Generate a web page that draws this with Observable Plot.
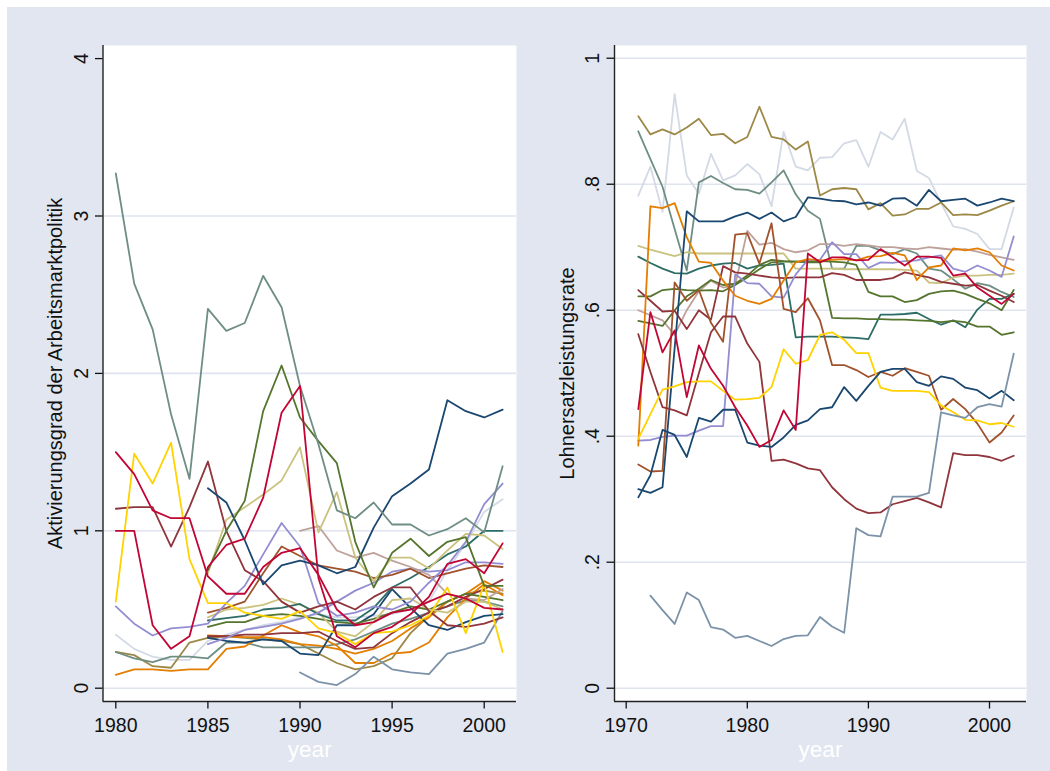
<!DOCTYPE html>
<html><head><meta charset="utf-8">
<script src="https://cdn.jsdelivr.net/npm/d3@7"></script>
<script src="https://cdn.jsdelivr.net/npm/@observablehq/plot@0.6"></script>
<style>
html,body{margin:0;padding:0;background:#fff;width:1050px;height:771px;overflow:hidden;}
#bg{position:absolute;left:7px;top:7px;width:1043px;height:764px;background:#e1e6f0;}
#p1,#p2{position:absolute;top:0;}
#p1{left:0px;} #p2{left:525px;}
</style></head>
<body>
<div id="bg"></div>
<div id="p1"></div>
<div id="p2"></div>
<script>
// ---------- Left panel: Aktivierungsgrad der Arbeitsmarktpolitik ----------
const leftXTicks = [1980, 1985, 1990, 1995, 2000];
const leftYTicks = [0, 1, 2, 3, 4];
const leftYTickLabels = ["0", "1", "2", "3", "4"];
const leftGrid = [0, 1, 2, 3];

const aTeal     = [3.27,2.57,2.28,1.74,1.33,2.41,2.27,2.32,2.62,2.42,1.92,1.55,1.13,1.08,1.18,1.04,1.04,0.97,1.01,1.08,0.99,1.41]; // 1980
const aRedA     = [1.50,1.36,1.13,1.08,1.08,0.71,0.60,0.60,0.77,0.86,0.89,0.72,0.50,0.40,0.42,0.48,0.50,0.55,0.60,0.57,0.51,0.50]; // 1980
const aRedB     = [1.00,1.00,0.40,0.25,0.33,0.77,0.91,0.95,1.21,1.75,1.92,0.70,0.33,0.26,0.35,0.39,0.47,0.58,0.79,0.82,0.73,0.92]; // 1980
const aMaroonA  = [1.14,1.15,1.15,0.90,1.15,1.44,1.00,0.75,0.68,0.55,0.48,0.52,0.55,0.50,0.58,0.64,0.64,0.49,0.40,0.39,0.41,0.45]; // 1980
const aGold     = [0.55,1.49,1.30,1.56,0.82,0.54,0.54,0.48,0.46,0.44,0.49,0.38,0.35,0.28,0.35,0.36,0.40,0.46,0.64,0.35,0.66,0.23]; // 1980
const aNavyA    = [1.27,1.18,0.94,0.66,0.78,0.81,0.78,0.73,0.77,1.02,1.22,1.30,1.39,1.83,1.76,1.72,1.77]; // 1985
const aNavyB    = [0.32,0.30,0.29,0.31,0.30,0.22,0.21,0.40,0.40,0.47,0.63,0.51,0.40,0.37,0.42,0.46,0.47]; // 1985
const aGreenA   = [0.75,1.00,1.19,1.76,2.05,1.72,1.57,1.43,0.93,0.64,0.86,0.95,0.84,0.93,0.96,0.65,0.65]; // 1985
const aKhakiA   = [0.73,1.07,1.15,1.23,1.32,1.53,0.99,1.245,0.83,0.68,0.83,0.83,0.76,0.875,0.98,0.97,0.885]; // 1985
const aErose    = [1.00,1.03,0.875,0.83,0.86,0.81,0.77,0.72,0.60,0.57,0.56,0.63]; // 1990
const aLavA     = [0.52,0.41,0.335,0.38,0.39,0.41,0.54,0.65,0.85,1.05,0.90,0.54,0.46,0.48,0.52,0.50,0.55,0.67,0.78,0.93,1.17,1.30]; // 1980
const aLavB     = [0.28,0.32,0.37,0.39,0.41,0.44,0.48,0.55,0.62,0.67,0.74,0.76,0.74,0.75,0.80,0.80,0.79]; // 1985
const aLight    = [0.34,0.25,0.20,0.18,0.18,0.30,0.34,0.37,0.40,0.42,0.45,0.47,0.45,0.45,0.46,0.47,0.50,0.55,0.75,0.92,1.12,1.20]; // 1980
const aOrangeA  = [0.085,0.12,0.12,0.11,0.12,0.12,0.25,0.265,0.335,0.40,0.355,0.33,0.27,0.16,0.16,0.22,0.23,0.29,0.45,0.57,0.66,0.59]; // 1980
const aOrangeB  = [0.335,0.33,0.325,0.325,0.31,0.28,0.27,0.25,0.22,0.25,0.30,0.38,0.45,0.55,0.60,0.68,0.62]; // 1985
const aBrown    = [0.23,0.21,0.14,0.13,0.29,0.32,0.33,0.32,0.31,0.30,0.28,0.22,0.16,0.12,0.14,0.19,0.35,0.46,0.55,0.60,0.62,0.60]; // 1980
const aSienna   = [0.48,0.51,0.55,0.73,0.90,0.84,0.78,0.76,0.74,0.70,0.72,0.76,0.70,0.73,0.76,0.78,0.77]; // 1985
const aEmerald  = [0.43,0.445,0.46,0.50,0.51,0.535,0.47,0.43,0.43,0.51,0.64,0.70,0.77,0.85,0.90,1.00,1.00]; // 1985
const aGreenB   = [0.39,0.42,0.42,0.46,0.47,0.46,0.44,0.42,0.41,0.44,0.48,0.52,0.50,0.55,0.60,0.58,0.56]; // 1985
const aTealB    = [0.23,0.19,0.165,0.20,0.20,0.19,0.29,0.29,0.26,0.26,0.26,0.26,0.28,0.31,0.36,0.41,0.44,0.48,0.52,0.56,0.55,0.52]; // 1980
const aEmidblue = [0.10,0.04,0.02,0.09,0.20,0.12,0.10,0.09,0.22,0.25,0.29,0.49]; // 1990
const aKhakiB   = [0.45,0.50,0.51,0.53,0.57,0.53,0.48,0.36,0.33,0.42,0.56,0.57,0.50,0.48,0.55,0.55,0.50]; // 1985
const aMaroonB  = [0.33,0.33,0.34,0.34,0.35,0.35,0.36,0.30,0.25,0.26,0.35,0.42,0.48,0.52,0.58,0.63,0.69]; // 1985

// ---------- Right panel: Lohnersatzleistungsrate ----------
const rightXTicks = [1970, 1980, 1990, 2000];
const rightYTicks = [0, 0.2, 0.4, 0.6, 0.8, 1];
const rightYTickLabels = ["0", ".2", ".4", ".6", ".8", "1"];
const rightGrid = [0, 0.2, 0.4, 0.6, 0.8, 1];

const rBrown   = [0.908,0.879,0.887,0.879,0.89,0.904,0.878,0.88,0.865,0.875,0.923,0.875,0.871,0.855,0.868,0.782,0.792,0.794,0.792,0.760,0.770,0.750,0.752,0.761,0.761,0.771,0.751,0.752,0.751,0.758,0.766,0.773]; // 1971
const rLight   = [0.782,0.828,0.756,0.943,0.814,0.785,0.848,0.806,0.814,0.832,0.816,0.765,0.883,0.828,0.822,0.842,0.843,0.865,0.870,0.828,0.883,0.871,0.904,0.821,0.81,0.77,0.733,0.729,0.721,0.697,0.697,0.763];
const rTeal    = [0.884,0.84,0.796,0.729,0.663,0.803,0.813,0.802,0.792,0.791,0.785,0.803,0.822,0.784,0.758,0.745,0.666,0.666,0.702,0.702,0.695,0.689,0.697,0.690,0.666,0.663,0.649,0.634,0.643,0.639,0.629,0.621];
const rNavyA   = [0.316,0.31,0.319,0.54,0.757,0.741,0.741,0.741,0.749,0.755,0.745,0.755,0.741,0.748,0.779,0.777,0.774,0.773,0.768,0.771,0.766,0.777,0.778,0.766,0.791,0.773,0.775,0.777,0.766,0.771,0.777,0.773];
const rNavyB   = [0.303,0.338,0.41,0.402,0.367,0.429,0.423,0.442,0.442,0.39,0.385,0.383,0.398,0.418,0.425,0.443,0.446,0.478,0.456,0.480,0.502,0.507,0.507,0.486,0.480,0.495,0.491,0.477,0.473,0.460,0.472,0.457];
const rOrange  = [0.385,0.765,0.762,0.77,0.716,0.677,0.675,0.647,0.623,0.615,0.61,0.618,0.647,0.676,0.681,0.679,0.68,0.681,0.679,0.685,0.686,0.691,0.687,0.648,0.668,0.671,0.698,0.695,0.698,0.692,0.671,0.663];
const rKhaki   = [0.702,0.696,0.691,0.686,0.692,0.69,0.69,0.69,0.69,0.69,0.69,0.69,0.69,0.666,0.666,0.666,0.666,0.665,0.665,0.665,0.665,0.665,0.664,0.663,0.644,0.643,0.652,0.655,0.655,0.656,0.656,0.658];
const rEmerald = [0.685,0.675,0.666,0.659,0.658,0.666,0.671,0.674,0.675,0.666,0.671,0.672,0.674,0.557,0.558,0.558,0.558,0.557,0.556,0.554,0.593,0.593,0.594,0.596,0.586,0.577,0.584,0.573,0.601,0.618,0.618,0.626];
const rGreenA  = [0.622,0.622,0.632,0.634,0.632,0.631,0.632,0.63,0.64,0.652,0.665,0.676,0.677,0.677,0.678,0.678,0.677,0.676,0.672,0.629,0.622,0.622,0.613,0.616,0.626,0.63,0.631,0.626,0.618,0.611,0.60,0.632];
const rGreenB  = [0.583,0.579,0.575,0.6,0.622,0.634,0.648,0.64,0.642,0.655,0.672,0.68,0.678,0.677,0.676,0.676,0.588,0.587,0.587,0.586,0.586,0.585,0.585,0.584,0.583,0.581,0.583,0.581,0.574,0.574,0.561,0.565];
const rErose   = [0.6,0.592,0.584,0.561,0.60,0.63,0.647,0.636,0.64,0.726,0.704,0.707,0.697,0.692,0.695,0.705,0.705,0.702,0.705,0.703,0.70,0.70,0.698,0.697,0.70,0.698,0.696,0.697,0.693,0.688,0.684,0.68];
const rLav     = [0.393,0.394,0.399,0.401,0.401,0.409,0.416,0.416,0.657,0.643,0.642,0.622,0.62,0.657,0.68,0.68,0.708,0.689,0.689,0.667,0.676,0.675,0.678,0.679,0.684,0.687,0.666,0.661,0.671,0.663,0.653,0.717];
const rRed     = [0.443,0.597,0.533,0.568,0.462,0.544,0.507,0.48,0.446,0.417,0.383,0.394,0.441,0.41,0.69,0.676,0.684,0.684,0.679,0.68,0.697,0.684,0.671,0.685,0.685,0.683,0.655,0.658,0.636,0.623,0.61,0.626];
const rMaroonA = [0.632,0.615,0.598,0.599,0.57,0.60,0.585,0.67,0.66,0.658,0.655,0.652,0.651,0.652,0.652,0.652,0.659,0.656,0.648,0.648,0.648,0.651,0.66,0.656,0.652,0.645,0.642,0.639,0.64,0.631,0.623,0.613];
const rMaroonB = [0.562,0.502,0.446,0.441,0.433,0.50,0.565,0.59,0.59,0.547,0.518,0.361,0.363,0.357,0.349,0.346,0.319,0.30,0.285,0.278,0.279,0.292,0.297,0.302,0.295,0.287,0.373,0.37,0.37,0.367,0.361,0.369];
const rSienna  = [0.355,0.344,0.345,0.644,0.615,0.632,0.58,0.55,0.72,0.722,0.674,0.738,0.602,0.597,0.619,0.584,0.513,0.513,0.505,0.494,0.502,0.496,0.508,0.502,0.496,0.442,0.459,0.443,0.42,0.39,0.406,0.433];
const rGold    = [0.396,0.435,0.474,0.479,0.486,0.487,0.487,0.472,0.458,0.459,0.461,0.478,0.538,0.515,0.521,0.561,0.565,0.553,0.532,0.532,0.477,0.472,0.472,0.472,0.47,0.449,0.438,0.426,0.425,0.419,0.421,0.415];
const rEmidblue = [0.147,0.124,0.102,0.152,0.14,0.097,0.093,0.08,0.083,0.075,0.067,0.078,0.083,0.084,0.113,0.098,0.088,0.254,0.243,0.241,0.304,0.304,0.304,0.31,0.438,0.433,0.429,0.446,0.451,0.447,0.531]; // 1972

// ---------- styling (Stata s2color-like) ----------
const C = {
  navy:"#1a476f", maroon:"#90353b", green:"#55752f", orange:"#e37e00", teal:"#6e8e84",
  red:"#c10534", lav:"#938dd2", khaki:"#cac27e", sienna:"#a0522d", emid:"#7b92a8",
  emerald:"#2d6d66", brown:"#9c8847", erose:"#bfa19c", gold:"#ffd200", light:"#d3d9e5"
};
const GRID = "#dfe4ee";
const FONT = "'Liberation Sans', Arial, Helvetica, sans-serif";

const leftSeries = [
  [aLight,1980,C.light],[aBrown,1980,C.brown],[aTealB,1980,C.teal],[aOrangeA,1980,C.orange],
  [aEmidblue,1990,C.emid],[aOrangeB,1985,C.orange],[aMaroonB,1985,C.maroon],[aNavyB,1985,C.navy],
  [aGreenB,1985,C.green],[aKhakiB,1985,C.khaki],[aEmerald,1985,C.emerald],[aLavB,1985,C.lav],
  [aSienna,1985,C.sienna],[aErose,1990,C.erose],[aKhakiA,1985,C.khaki],[aLavA,1980,C.lav],
  [aMaroonA,1980,C.maroon],[aGold,1980,C.gold],[aNavyA,1985,C.navy],[aGreenA,1985,C.green],
  [aTeal,1980,C.teal],[aRedA,1980,C.red],[aRedB,1980,C.red]
];
const rightSeries = [
  [rLight,1971,C.light],[rBrown,1971,C.brown],[rTeal,1971,C.teal],[rKhaki,1971,C.khaki],
  [rErose,1971,C.erose],[rEmerald,1971,C.emerald],[rGreenB,1971,C.green],[rGreenA,1971,C.green],
  [rMaroonA,1971,C.maroon],[rLav,1971,C.lav],[rOrange,1971,C.orange],[rNavyA,1971,C.navy],
  [rSienna,1971,C.sienna],[rMaroonB,1971,C.maroon],[rGold,1971,C.gold],[rNavyB,1971,C.navy],
  [rRed,1971,C.red],[rEmidblue,1972,C.emid]
];

function panel(cfg) {
  const {series, xDomain, yDomain, xTicks, yTicks, yTickLabels, grid, yTitle, ml, mr} = cfg;
  const marks = [
    Plot.frame({fill: "#fff", stroke: null}),
    Plot.ruleY(grid, {stroke: GRID, strokeWidth: 1.6}),
    ...series.map(([vals, start, color]) =>
      Plot.line(vals.map((v, i) => ({year: start + i, value: v})),
        {x: "year", y: "value", stroke: color, strokeWidth: 1.8, strokeLinejoin: "round"})),
    Plot.ruleX([xDomain[0]], {stroke: "#222", strokeWidth: 1.4}),
    Plot.ruleY([yDomain[0]], {stroke: "#222", strokeWidth: 1.4}),
    Plot.axisX({ticks: xTicks, tickSize: 7.5, tickPadding: 9, fontSize: 19.5, label: null,
      tickFormat: d => String(d), strokeWidth: 1.3}),
    Plot.axisY({ticks: yTicks, tickSize: 7.5, tickFormat: () => "", label: null, strokeWidth: 1.3}),
    Plot.text(yTicks.map((t, i) => ({t, lab: yTickLabels[i]})),
      {x: xDomain[0], y: "t", text: "lab", rotate: -90, dx: -21.5, fontSize: 19.5,
       textAnchor: "middle", lineAnchor: "middle", fill: "#111"}),
    Plot.text([yTitle], {frameAnchor: "left", dx: -47, rotate: -90, fontSize: 20,
       textAnchor: "middle", lineAnchor: "middle", text: d => d, fill: "#111"}),
    Plot.text(["year"], {frameAnchor: "bottom", dy: 48.5, fontSize: 22.5, fill: "#fff",
       textAnchor: "middle", lineAnchor: "middle", text: d => d})
  ];
  return Plot.plot({
    width: 525, height: 771,
    marginLeft: ml, marginRight: mr, marginTop: 45, marginBottom: 70,
    x: {domain: xDomain}, y: {domain: yDomain},
    style: {background: "transparent", fontFamily: FONT, color: "#111", overflow: "visible"},
    marks
  });
}

document.getElementById("p1").appendChild(panel({
  series: leftSeries, xDomain: [1979.305, 2001.753], yDomain: [-0.0845, 4.0832],
  xTicks: leftXTicks, yTicks: leftYTicks, yTickLabels: leftYTickLabels, grid: leftGrid,
  yTitle: "Aktivierungsgrad der Arbeitsmarktpolitik", ml: 102.5, mr: 9
}));
document.getElementById("p2").appendChild(panel({
  series: rightSeries, xDomain: [1969.034, 2003.055], yDomain: [-0.0211, 1.0202],
  xTicks: rightXTicks, yTicks: rightYTicks, yTickLabels: rightYTickLabels, grid: rightGrid,
  yTitle: "Lohnersatzleistungsrate", ml: 89, mr: 24
}));
</script>
</body></html>
